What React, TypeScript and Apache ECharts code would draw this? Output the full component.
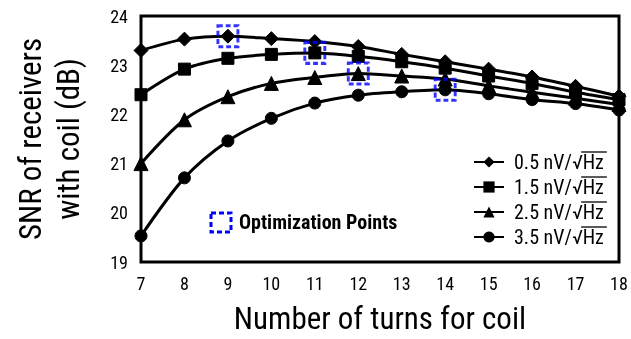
import React, { useEffect, useRef } from "react";
import * as echarts from "echarts";

const turns = [7, 8, 9, 10, 11, 12, 13, 14, 15, 16, 17, 18];
const snr05 = [23.30, 23.53, 23.59, 23.54, 23.48, 23.38, 23.22, 23.07, 22.92, 22.76, 22.57, 22.37];
const snr15 = [22.40, 22.92, 23.14, 23.22, 23.25, 23.18, 23.07, 22.94, 22.78, 22.63, 22.45, 22.30];
const snr25 = [21.00, 21.89, 22.36, 22.63, 22.75, 22.83, 22.78, 22.72, 22.58, 22.45, 22.33, 22.20];
const snr35 = [19.53, 20.71, 21.46, 21.92, 22.23, 22.39, 22.46, 22.50, 22.42, 22.30, 22.22, 22.09];
const seriesNames = ["0.5 nV/√Hz", "1.5 nV/√Hz", "2.5 nV/√Hz", "3.5 nV/√Hz"];
const seriesSymbols = ["diamond", "rect", "triangle", "circle"];
const seriesSizes = [14, 12, 14, 12];
// optimization point per series: index into turns
const optIndex = [2, 4, 5, 7];
const xTicks = { min: 7, max: 18, interval: 1 };
const yTicks = { min: 19, max: 24, interval: 1 };

const FONT = '"Liberation Sans Narrow", "Arial Narrow", "Roboto Condensed", "Liberation Sans", Arial, sans-serif';

export default function App() {
  const ref = useRef<HTMLDivElement>(null);
  useEffect(() => {
    const el = ref.current!;
    const chart = echarts.init(el, null, { renderer: "svg" });
    const all = [snr05, snr15, snr25, snr35];

    const legendLeft = 473;
    const legendTop = 152;
    const rowH = 20;
    const rowGap = 5;
    const iconW = 30;

    const baseGraphic: any[] = [
      {
        id: "optKeyBox",
        type: "rect",
        shape: { x: 211, y: 213, width: 20, height: 19 },
        style: { fill: "none", stroke: "#0000ff", lineWidth: 3, lineDash: [5, 3] },
        z: 100,
      },
      {
        id: "optKeyText",
        type: "text",
        x: 239,
        y: 222,
        style: {
          text: "Optimization Points",
          font: `bold 20px ${FONT}`,
          fill: "#000",
          verticalAlign: "middle",
          textVerticalAlign: "middle",
        },
        z: 100,
      },
    ];

    const lineSeries: any[] = all.map((arr, i) => ({
      name: seriesNames[i],
      type: "line",
      smooth: 0.3,
      data: turns.map((t, j) => [t, arr[j]]),
      symbol: seriesSymbols[i],
      symbolSize: seriesSizes[i],
      showSymbol: true,
      lineStyle: { color: "#000", width: 3 },
      itemStyle: { color: "#000", borderColor: "#000" },
      z: 3,
    }));

    const optSeries = {
      name: "Optimization Points",
      type: "scatter",
      data: optIndex.map((j, i) => [turns[j], all[i][j]]),
      symbol: "rect",
      symbolSize: [20, 21],
      itemStyle: {
        color: "rgba(0,0,0,0)",
        borderColor: "#0000ff",
        borderWidth: 3,
        borderType: [5, 3],
      },
      z: 10,
      silent: true,
    };

    chart.setOption({
      animation: false,
      grid: {
        left: 141,
        right: 12,
        top: 16,
        bottom: 77,
        show: true,
        borderColor: "#000",
        borderWidth: 3,
        backgroundColor: "transparent",
      },
      xAxis: {
        type: "value",
        min: xTicks.min,
        max: xTicks.max,
        interval: xTicks.interval,
        splitLine: { show: false },
        axisLine: { show: false },
        axisTick: { show: false },
        axisLabel: { color: "#000", fontSize: 18, fontFamily: FONT, margin: 12 },
        name: "Number of turns for coil",
        nameLocation: "middle",
        nameGap: 41,
        nameTextStyle: { color: "#000", fontSize: 31, fontFamily: FONT },
      },
      yAxis: {
        type: "value",
        min: yTicks.min,
        max: yTicks.max,
        interval: yTicks.interval,
        splitLine: { show: false },
        axisLine: { show: false },
        axisTick: { show: false },
        axisLabel: { color: "#000", fontSize: 18, fontFamily: FONT, margin: 13 },
        name: "SNR of receivers\nwith coil (dB)",
        nameLocation: "middle",
        nameRotate: 90,
        nameGap: 54,
        nameTextStyle: { color: "#000", fontSize: 31, fontFamily: FONT, lineHeight: 38 },
      },
      legend: {
        data: seriesNames,
        orient: "vertical",
        left: legendLeft,
        top: legendTop,
        padding: 0,
        itemWidth: iconW,
        itemHeight: 14,
        itemGap: rowGap,
        textStyle: { color: "#000", fontSize: 20, fontFamily: FONT, lineHeight: rowH, padding: [0, 0, 0, 5] },
      },
      graphic: baseGraphic,
      series: [...lineSeries, optSeries],
    });

    let done = false;
    const addOverlines = () => {
      if (done) return;
      const svg = el.querySelector("svg");
      if (!svg) return;
      const svgRect = svg.getBoundingClientRect();
      const texts = Array.from(el.querySelectorAll("text")).filter(
        (t) => (t.textContent || "").includes("√")
      ) as SVGTextElement[];
      if (!texts.length) return;
      const over: any[] = [];
      texts.forEach((t, k) => {
        const s = t.textContent || "";
        const i = s.indexOf("√");
        const n = s.length;
        try {
          const pRad = t.getEndPositionOfChar(i);
          const pEnd = t.getEndPositionOfChar(n - 1);
          const m = t.getScreenCTM();
          if (!m) return;
          const a = new DOMPoint(pRad.x, pRad.y).matrixTransform(m);
          const b = new DOMPoint(pEnd.x, pEnd.y).matrixTransform(m);
          const bb = t.getBoundingClientRect();
          const cy = bb.top + bb.height / 2 - svgRect.top;
          const y = cy - 10;
          over.push({
            id: "ov" + k,
            type: "line",
            shape: { x1: a.x - svgRect.left - 1.5, y1: y, x2: b.x - svgRect.left + 3, y2: y },
            style: { stroke: "#000", lineWidth: 1.3 },
            z: 100,
          });
        } catch (e) {
          /* ignore */
        }
      });
      if (over.length) {
        done = true;
        chart.setOption({ graphic: [...baseGraphic, ...over] });
      }
    };
    addOverlines();
    chart.on("finished", addOverlines);
    const timer = setTimeout(addOverlines, 50);
    return () => {
      clearTimeout(timer);
      chart.dispose();
    };
  }, []);
  return <div ref={ref} style={{ position: "fixed", left: 0, top: 0, width: 631, height: 339 }} />;
}
